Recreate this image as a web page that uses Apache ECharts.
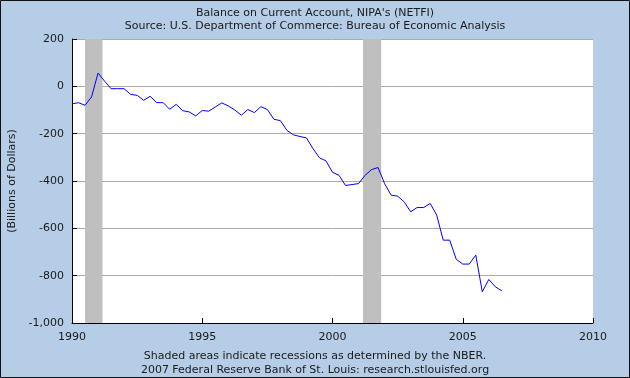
<!DOCTYPE html>
<html>
<head>
<meta charset="utf-8">
<script src="https://cdn.jsdelivr.net/npm/echarts@6/dist/echarts.min.js"></script>
<style>
html,body{margin:0;padding:0;background:#b5cde6;}
#c{width:630px;height:378px;}
</style>
</head>
<body>
<div id="c"></div>
<script>
// Quarterly values, 1990Q1 .. 2006Q3 (billions of dollars)
const startYear = 1990;
const netfi = [
  -74, -69, -80, -45, 56, 22, -10, -10,
  -10, -34, -38, -59, -42, -69, -69, -97,
  -76, -103, -108, -125, -102, -105, -87, -70,
  -83, -100, -122, -98, -111, -86, -98, -139,
  -145, -186, -205, -212, -218, -263, -302, -315,
  -363, -376, -419, -415, -411, -376, -352, -343,
  -411, -460, -464, -488, -530, -512, -512, -495,
  -544, -650, -650, -731, -751, -751, -713, -868,
  -816, -847, -864
];
const recessions = [[1990.5, 1991.17], [2001.17, 2001.87]];
const xTicks = [1990, 1995, 2000, 2005, 2010];
const yTicks = [200, 0, -200, -400, -600, -800, -1000];

const seriesData = netfi.map((v, i) => [startYear + i / 4, v]);
const font = 'DejaVu Sans';
const txt = '#1a1a1a';

const chart = echarts.init(document.getElementById('c'), null, {renderer: 'canvas'});
chart.setOption({
  backgroundColor: '#b5cde6',
  animation: false,
  graphic: [{
    type: 'rect', silent: true, z: 100,
    shape: {x: 0.5, y: 0.5, width: 629, height: 377},
    style: {fill: 'none', stroke: '#111', lineWidth: 1}
  }],
  title: [
    {text: "Balance on Current Account, NIPA's (NETFI)", left: 'center', top: 3,
     textStyle: {fontFamily: font, fontSize: 11, fontWeight: 'normal', color: txt}},
    {text: 'Source: U.S. Department of Commerce: Bureau of Economic Analysis', left: 'center', top: 16,
     textStyle: {fontFamily: font, fontSize: 11, fontWeight: 'normal', color: txt}},
    {text: 'Shaded areas indicate recessions as determined by the NBER.', left: 'center', top: 346,
     textStyle: {fontFamily: font, fontSize: 11, fontWeight: 'normal', color: txt}},
    {text: '2007 Federal Reserve Bank of St. Louis: research.stlouisfed.org', left: 'center', top: 360,
     textStyle: {fontFamily: font, fontSize: 11, fontWeight: 'normal', color: txt}}
  ],
  grid: {left: 72, right: 37, top: 39, bottom: 55, containLabel: false,
         outerBoundsMode: 'none',
         show: true, backgroundColor: '#ffffff', borderWidth: 0},
  xAxis: {
    type: 'value', min: xTicks[0], max: xTicks[xTicks.length - 1], interval: 5,
    axisLine: {show: true, onZero: false, lineStyle: {color: '#000', width: 1}},
    axisTick: {show: true, inside: true, length: 5, lineStyle: {color: '#000'}},
    splitLine: {show: false},
    axisLabel: {fontFamily: font, fontSize: 11, color: txt, margin: 9,
                formatter: v => String(v)}
  },
  yAxis: {
    type: 'value', min: yTicks[yTicks.length - 1], max: yTicks[0], interval: 200,
    name: '(Billions of Dollars)', nameLocation: 'middle', nameGap: 52, nameRotate: 90,
    nameTextStyle: {fontFamily: font, fontSize: 11, color: txt},
    axisLine: {show: true, onZero: false, lineStyle: {color: '#000', width: 1}},
    axisTick: {show: true, inside: true, length: 5, lineStyle: {color: '#000'}},
    splitLine: {show: true, lineStyle: {color: '#aaaaaa', width: 1}},
    axisLabel: {fontFamily: font, fontSize: 11, color: txt, margin: 8,
                formatter: v => v.toLocaleString('en-US')}
  },
  series: [{
    type: 'line', data: seriesData, showSymbol: false, symbol: 'none',
    lineStyle: {color: '#0000ff', width: 1},
    z: 5,
    markArea: {
      silent: true,
      itemStyle: {color: '#bfbfbf', opacity: 1},
      data: recessions.map(r => [{xAxis: r[0]}, {xAxis: r[1]}])
    }
  }]
});
</script>
</body>
</html>
